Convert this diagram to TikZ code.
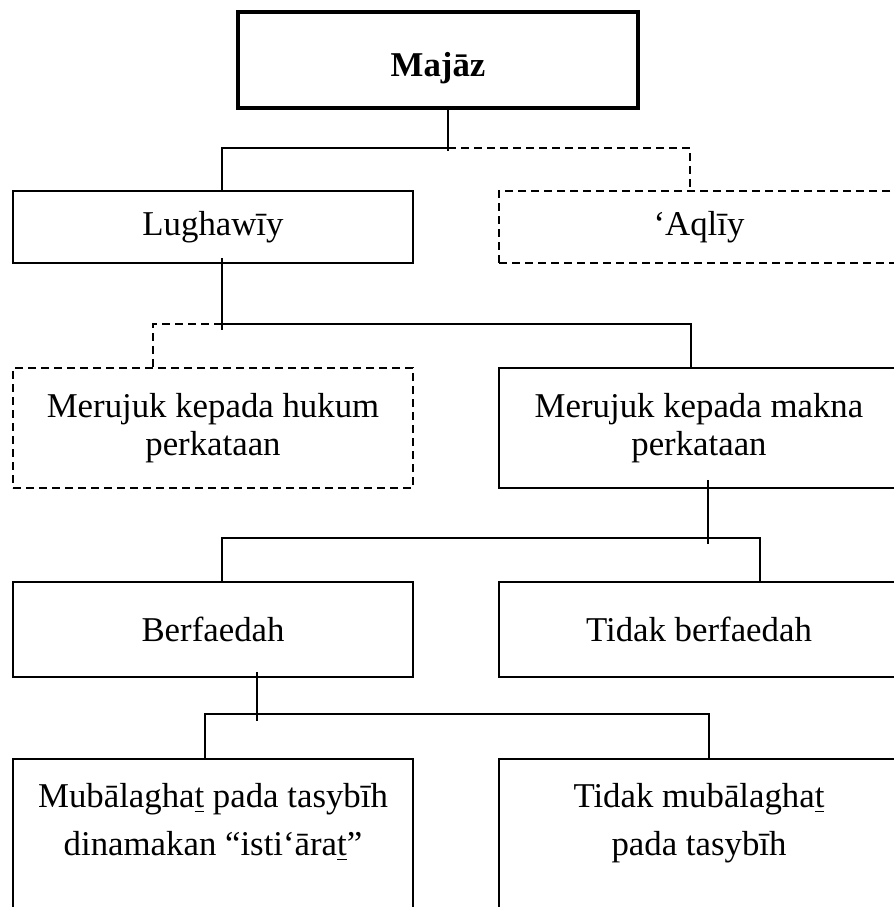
\documentclass[tikz,border=0pt]{standalone}
\usepackage{fontspec}
\setmainfont{Liberation Serif}
\usepackage{tikz}
\usetikzlibrary{calc}

\newcommand{\tbar}{\underline{t}}

\begin{document}
\begin{tikzpicture}[
  x=0.5pt, y=-0.5pt,
  every node/.style={font=\fontsize{17.4}{19}\selectfont},
  box/.style={draw, line width=0.75pt, minimum width=200pt,
              minimum height=36pt, align=center, inner sep=0pt},
  dbox/.style={box, dash pattern=on 4pt off 2.5pt},
  lowbox/.style={box, minimum height=92pt, font=\fontsize{17.4}{24}\selectfont},
  link/.style={line width=0.75pt},
  dlink/.style={link, dash pattern=on 4pt off 2.5pt}
]
\clip (0,0) rectangle (894,907);

\node[box, line width=2pt, minimum height=48pt] (majaz) at (438,60)
  {\raisebox{-4pt}[\height][\depth]{\textbf{Majāz}}};
\node[box]                        (lugh)  at (213,227) {Lughawīy};
\node[dbox]                       (aqli)  at (699,227) {‘Aqlīy};
\node[dbox, minimum height=60pt]  (hukum) at (213,428) {Merujuk kepada hukum\\perkataan};
\node[box, minimum height=60pt]   (makna) at (699,428) {Merujuk kepada makna\\perkataan};
\node[box, minimum height=47.5pt] (berf)  at (213,629.5) {Berfaedah};
\node[box, minimum height=47.5pt] (tberf) at (699,629.5) {Tidak berfaedah};
\node[lowbox] (mub)  at (213,851) {Mubālagha\tbar{} pada tasybīh\\dinamakan “isti‘āra\tbar”\\ \strut};
\node[lowbox] (tmub) at (699,851) {Tidak mubālagha\tbar\\pada tasybīh\\ \strut};

% Majaz
\coordinate (j1) at ($(majaz.south)+(10,38)$);
\draw[link] (majaz.south -| j1) -- ($(j1)+(0,3)$);
\draw[link] (j1) -| ($(lugh.north)+(9,0)$);
\draw[dlink] (j1) -| ($(aqli.north)+(-9,0)$);

% Lughawiy
\coordinate (j2) at ($(lugh.south)+(9,60)$);
\draw[link] ($(lugh.south)+(9,-6)$) -- ($(j2)+(0,6)$);
\draw[dlink] (j2) -| ($(hukum.north)+(-60,0)$);
\draw[link] (j2) -| ($(makna.north)+(-8,0)$);

% makna
\coordinate (j3) at ($(makna.south)+(9,49)$);
\draw[link] ($(makna.south)+(9,-9)$) -- ($(j3)+(0,6)$);
\draw[link] ($(berf.north)+(9,0)$) |- (j3) -| ($(tberf.north)+(61,0)$);

% Berfaedah
\coordinate (j4) at ($(berf.south)+(44,36)$);
\draw[link] ($(berf.south)+(44,-6)$) -- ($(j4)+(0,7)$);
\draw[link] ($(mub.north)+(-8,0)$) |- (j4) -| ($(tmub.north)+(10,0)$);
\end{tikzpicture}
\end{document}
